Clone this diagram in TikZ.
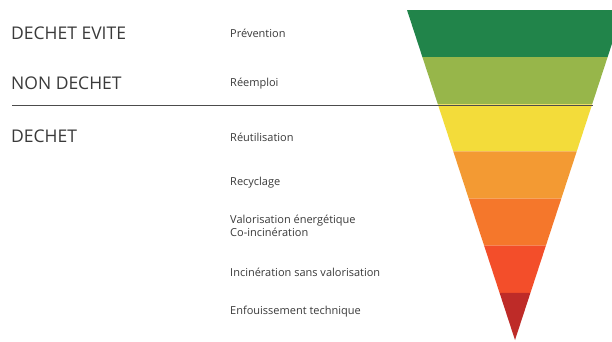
\documentclass[tikz,border=0pt]{standalone}
\usepackage{fontspec}
\setmainfont{Open Sans}
\definecolor{txt}{HTML}{3A3A3A}
\definecolor{bandA}{HTML}{21844A}
\definecolor{bandB}{HTML}{97B64A}
\definecolor{bandC}{HTML}{F3DC3A}
\definecolor{bandD}{HTML}{F39A33}
\definecolor{bandE}{HTML}{F5772B}
\definecolor{bandF}{HTML}{F34E2A}
\definecolor{bandG}{HTML}{BE2B28}
\tikzset{
  biglabel/.style={anchor=west,text=txt,font=\fontsize{17.5}{19}\selectfont,inner sep=0pt},
  smalllabel/.style={anchor=west,text=txt,font=\fontsize{11}{13}\selectfont,inner sep=0pt,align=left},
  sepline/.style={draw=black!70,line width=1pt}
}
\begin{document}
\begin{tikzpicture}[x=1pt,y=-1pt]
\useasboundingbox (0,0) rectangle (612,341);
\fill[white] (0,0) rectangle (612,341);
\begin{scope}
\clip (0,0) rectangle (612,341);
\fill[bandA] (407,10) -- (623,10) -- (607.57,57.14) -- (422.43,57.14) -- cycle;
\fill[bandB] (422.43,57.14) -- (607.57,57.14) -- (592.14,104.29) -- (437.86,104.29) -- cycle;
\fill[bandC] (437.86,104.29) -- (592.14,104.29) -- (576.71,151.43) -- (453.29,151.43) -- cycle;
\fill[bandD] (453.29,151.43) -- (576.71,151.43) -- (561.29,198.57) -- (468.71,198.57) -- cycle;
\fill[bandE] (468.71,198.57) -- (561.29,198.57) -- (545.86,245.71) -- (484.14,245.71) -- cycle;
\fill[bandF] (484.14,245.71) -- (545.86,245.71) -- (530.43,292.86) -- (499.57,292.86) -- cycle;
\fill[bandG] (499.57,292.86) -- (530.43,292.86) -- (515,340) -- cycle;
\end{scope}
\coordinate (lineL) at (12,105);
\coordinate (lineR) at (593,105);
\draw[sepline] (lineL) -- (lineR);
\node[biglabel] (evite) at (11,33) {DECHET EVITE};
\node[biglabel] (non) at (11,83) {NON DECHET};
\node[biglabel] (dechet) at (11,136) {DECHET};
\node[smalllabel] (prev) at (230,33) {Prévention};
\node[smalllabel] (reem) at (230,84) {Réemploi};
\node[smalllabel] (reut) at (230,137) {Réutilisation};
\node[smalllabel] (recy) at (230,183) {Recyclage};
\node[smalllabel] (valo) at (230,226) {Valorisation énergétique\\Co-incinération};
\node[smalllabel] (inci) at (230,272) {Incinération sans valorisation};
\node[smalllabel] (enf) at (230,312) {Enfouissement technique};
\end{tikzpicture}
\end{document}
